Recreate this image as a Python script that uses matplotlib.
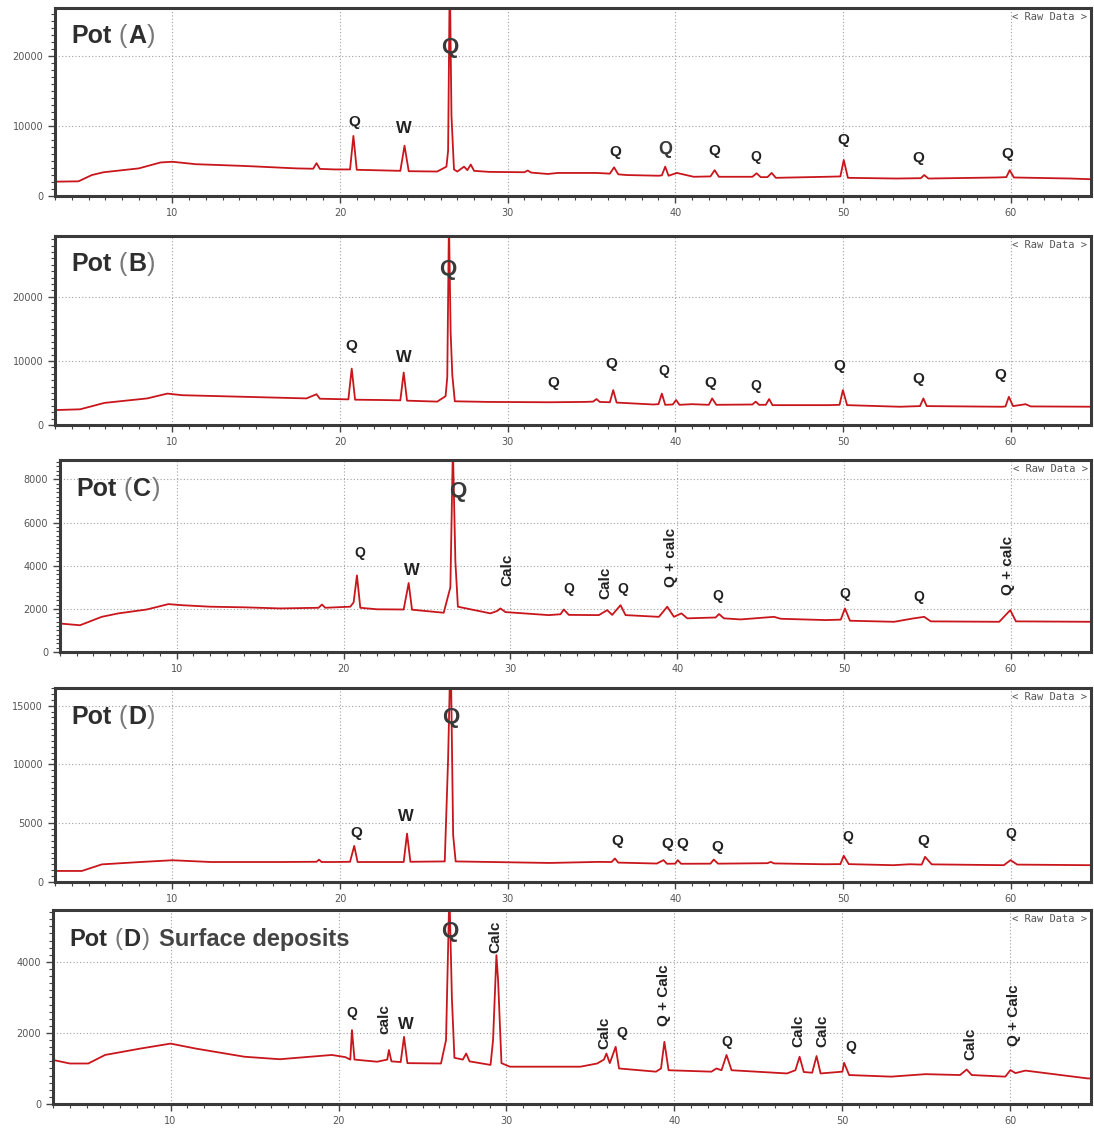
import matplotlib
matplotlib.use("Agg")
import matplotlib.pyplot as plt
from matplotlib.ticker import MultipleLocator
from matplotlib.transforms import offset_copy, blended_transform_factory

# ---- Pot (A) ----
a_tt = [3.0, 4.4, 5.2, 5.9, 8.0, 9.3, 10.0, 11.4, 14.3, 17.4, 18.4, 18.6, 18.8, 19.7, 20.6, 20.8, 21.0,
        21.9, 23.6, 23.85, 24.1, 25.8, 26.35, 26.45, 26.55, 26.65, 26.8, 27.0, 27.4, 27.6, 27.8, 28.0,
        28.9, 31.0, 31.2, 31.4, 32.4, 33.0, 35.3, 36.1, 36.35, 36.6, 37.1, 39.0, 39.2, 39.4, 39.6, 40.1,
        41.1, 42.1, 42.35, 42.6, 44.6, 44.85, 45.1, 45.5, 45.75, 46.0, 49.0, 49.85, 50.05, 50.3, 53.2,
        54.65, 54.85, 55.1, 59.2, 59.75, 59.95, 60.2, 63.6, 65.0]
a_cts = [2050, 2100, 3000, 3400, 3950, 4800, 4900, 4550, 4300, 3950, 3900, 4700, 3880, 3800, 3800, 8600, 3750,
         3700, 3600, 7200, 3550, 3500, 4200, 6500, 32000, 11500, 3800, 3500, 4200, 3700, 4500, 3600,
         3450, 3400, 3650, 3350, 3150, 3300, 3300, 3200, 4100, 3100, 3000, 2900, 2950, 4200, 2900, 3300,
         2750, 2800, 3700, 2750, 2750, 3250, 2700, 2700, 3300, 2600, 2750, 2800, 5150, 2600, 2500,
         2550, 3000, 2500, 2650, 2700, 3700, 2650, 2500, 2380]
a_labels = [(20.85, 10600, "Q", 11), (23.8, 9700, "W", 12), (26.55, 21200, "Q", 16),
            (36.4, 6300, "Q", 11), (39.4, 6600, "Q", 13), (42.3, 6400, "Q", 11),
            (44.8, 5600, "Q", 10), (50.0, 8000, "Q", 11), (54.5, 5400, "Q", 11), (59.8, 6000, "Q", 11)]

# ---- Pot (B) ----
b_tt = [3.0, 4.5, 5.95, 8.5, 9.7, 10.6, 14.3, 18.0, 18.6, 18.8, 19.7, 20.5, 20.7, 20.9, 22.5, 23.6, 23.8,
        24.0, 25.8, 26.3, 26.4, 26.5, 26.6, 26.7, 26.85, 28.9, 32.5, 34.55, 35.1, 35.3, 35.5, 36.1, 36.3,
        36.5, 38.7, 39.0, 39.2, 39.4, 39.85, 40.05, 40.25, 41.0, 42.0, 42.2, 42.45, 44.6, 44.8, 45.0,
        45.4, 45.6, 45.8, 49.2, 49.8, 50.0, 50.25, 53.4, 54.6, 54.8, 55.0, 59.5, 59.7, 59.9, 60.15, 60.9,
        61.2, 65.0]
b_cts = [2330, 2450, 3450, 4150, 4900, 4650, 4400, 4150, 4800, 4100, 4050, 4000, 8800, 3950, 3900, 3850, 8200,
         3800, 3650, 4500, 7500, 32000, 14500, 7800, 3700, 3600, 3550, 3600, 3650, 4050, 3600, 3550, 5450,
         3500, 3200, 3250, 4900, 3150, 3200, 3900, 3150, 3250, 3150, 4150, 3150, 3200, 3650, 3150,
         3150, 4050, 3100, 3100, 3150, 5450, 3100, 2850, 2950, 4150, 2950, 2850, 2900, 4400, 2950, 3250,
         2900, 2850]
b_labels = [(20.7, 12300, "Q", 11), (23.8, 10600, "W", 12), (26.4, 24200, "Q", 16),
            (32.7, 6600, "Q", 11), (36.2, 9500, "Q", 11), (39.3, 8400, "Q", 10), (42.1, 6600, "Q", 11),
            (44.8, 6100, "Q", 10), (49.8, 9200, "Q", 11), (54.5, 7200, "Q", 11), (59.4, 7800, "Q", 11)]

# ---- Pot (C) ----
c_tt = [3.0, 4.2, 5.5, 6.5, 8.2, 9.5, 10.3, 12.0, 14.1, 16.2, 18.5, 18.7, 18.9, 20.4, 20.6, 20.8, 21.0,
        22.0, 23.6, 23.9, 24.1, 26.0, 26.4, 26.55, 26.7, 26.85, 28.8, 29.2, 29.4, 29.7, 32.3, 33.0, 33.2,
        33.5, 35.3, 35.8, 36.1, 36.6, 36.9, 38.9, 39.4, 39.8, 40.25, 40.6, 42.3, 42.5, 42.8, 43.8, 45.8,
        46.2, 48.9, 49.8, 50.05, 50.35, 53.0, 54.1, 54.8, 55.2, 59.3, 59.96, 60.3, 64.8]
c_cts = [1320, 1240, 1630, 1790, 1970, 2220, 2170, 2100, 2070, 2020, 2050, 2200, 2050, 2100, 2300, 3550, 2050,
         1980, 1970, 3200, 1960, 1820, 3000, 9500, 4200, 2100, 1790, 1900, 2020, 1850, 1710, 1750, 1970,
         1720, 1710, 1940, 1720, 2170, 1710, 1630, 2100, 1630, 1790, 1560, 1600, 1760, 1560, 1510, 1630,
         1540, 1480, 1500, 2020, 1450, 1400, 1550, 1630, 1420, 1400, 1940, 1420, 1400]
c_labels = [(21.0, 4600, "Q", 10), (24.1, 3800, "W", 12), (26.85, 7450, "Q", 16),
            (33.5, 2900, "Q", 10), (36.75, 2900, "Q", 10), (42.45, 2600, "Q", 10),
            (50.05, 2700, "Q", 10), (54.5, 2550, "Q", 10)]
c_vlabels = [(29.8, 3800, "Calc"), (35.7, 3200, "Calc"), (39.6, 4400, "Q + calc"), (59.8, 4000, "Q + calc")]

# ---- Pot (D) ----
d_tt = [3.0, 4.6, 5.8, 8.1, 10.0, 12.3, 16.5, 18.6, 18.75, 18.9, 19.6, 20.6, 20.85, 21.05, 23.8, 24.0, 24.2,
        26.25, 26.45, 26.6, 26.75, 26.9, 32.5, 35.4, 36.2, 36.4, 36.6, 38.9, 39.3, 39.5, 40.0, 40.15,
        40.35, 42.1, 42.3, 42.55, 45.5, 45.7, 45.9, 48.9, 49.85, 50.05, 50.35, 53.0, 54.0, 54.7, 54.9,
        55.3, 59.6, 60.0, 60.4, 64.7]
d_cts = [940, 940, 1500, 1700, 1850, 1700, 1700, 1720, 1900, 1700, 1700, 1720, 3070, 1700, 1700, 4120, 1720,
         1750, 10500, 20000, 4000, 1750, 1620, 1710, 1700, 2000, 1650, 1570, 1860, 1550, 1560, 1860,
         1550, 1560, 1910, 1560, 1600, 1710, 1580, 1510, 1520, 2230, 1520, 1430, 1510, 1480, 2140,
         1500, 1430, 1860, 1480, 1430]
d_labels = [(20.95, 4200, "Q", 11), (23.9, 5600, "W", 12), (26.6, 13950, "Q", 16),
            (36.55, 3500, "Q", 11), (39.5, 3200, "Q", 11), (40.4, 3200, "Q", 11), (42.5, 3000, "Q", 11),
            (50.3, 3850, "Q", 10), (54.8, 3500, "Q", 11), (60.0, 4050, "Q", 10)]

# ---- Pot (D) surface deposits ----
e_tt = [3.0, 4.0, 5.1, 6.1, 8.2, 10.0, 11.5, 14.4, 16.5, 19.6, 20.4, 20.7, 20.8, 20.95, 22.3, 22.9, 23.0,
        23.15, 23.7, 23.9, 24.1, 26.1, 26.4, 26.6, 26.75, 26.9, 27.4, 27.6, 27.8, 29.05, 29.2, 29.4, 29.5,
        29.7, 30.2, 32.4, 34.4, 35.4, 35.8, 35.95, 36.15, 36.5, 36.7, 38.9, 39.2, 39.4, 39.65, 42.2,
        42.5, 42.8, 43.1, 43.4, 46.7, 47.2, 47.45, 47.7, 48.2, 48.46, 48.7, 50.0, 50.1, 50.4, 52.9,
        54.95, 57.0, 57.4, 57.7, 59.7, 60.0, 60.3, 60.9, 64.6, 65.0]
e_cts = [1240, 1140, 1140, 1380, 1560, 1700, 1560, 1330, 1260, 1380, 1320, 1250, 2080, 1250, 1190, 1250, 1520,
         1200, 1180, 1890, 1150, 1140, 1800, 6000, 2970, 1300, 1250, 1420, 1200, 1100, 1800, 4190, 3480,
         1150, 1050, 1050, 1050, 1140, 1250, 1420, 1150, 1610, 1000, 910, 1000, 1750, 950, 910,
         1000, 950, 1380, 950, 860, 950, 1330, 900, 880, 1350, 860, 910, 1160, 815, 770,
         840, 815, 970, 815, 770, 955, 870, 940, 720, 720]
e_labels = [(20.8, 2550, "Q", 10), (24.0, 2250, "W", 12), (26.6, 4850, "Q", 16),
            (36.85, 2000, "Q", 10), (43.1, 1750, "Q", 10), (50.5, 1600, "Q", 10)]
e_vlabels = [(22.7, 2400, "calc"), (29.35, 4700, "Calc"), (35.8, 2000, "Calc"), (39.4, 3050, "Q + Calc"),
             (47.4, 2050, "Calc"), (48.8, 2050, "Calc"), (57.6, 1700, "Calc"), (60.2, 2500, "Q + Calc")]

W, H = 1094, 1128
FONT = "Liberation Sans"
TXT = "#2e2e2e"

# panel: left px, top px, bottom px, ymax, major, minor, letter, data, labels
panels = [
    (55, 8, 196, 26900, 10000, 1000, "A", a_tt, a_cts, a_labels, []),
    (55, 236, 425, 29500, 10000, 1000, "B", b_tt, b_cts, b_labels, []),
    (60, 460, 652, 8900, 2000, 200, "C", c_tt, c_cts, c_labels, c_vlabels),
    (55, 688, 882, 16500, 5000, 500, "D", d_tt, d_cts, d_labels, []),
    (53, 910, 1104, 5460, 2000, 200, "D", e_tt, e_cts, e_labels, e_vlabels),
]

fig = plt.figure(figsize=(W / 100, H / 100), dpi=100)
renderer = fig.canvas.get_renderer()


def title(ax, letter, extra, size):
    # "Pot (X)" with thin grey brackets, pieces placed one after another
    pieces = [("Pot", "bold", TXT, 7), ("(", "normal", "#777777", 1), (letter, "bold", TXT, 1),
              (")", "normal", "#777777", 9)]
    if extra:
        pieces.append((extra, "bold", "#444444", 0))
    dx = 0
    for s, wgt, col, gap in pieces:
        tr = offset_copy(ax.transAxes, fig=fig, x=dx, y=0, units="dots")
        t = ax.text(0.016, 0.85, s, transform=tr, fontsize=size, fontweight=wgt, color=col,
                    family=FONT, va="center", ha="left")
        dx += t.get_window_extent(renderer).width + gap


for i, (left, top, bottom, ymax, major, minor, letter, tt, cts, labels, vlabels) in enumerate(panels):
    ax = fig.add_axes([left / W, 1 - bottom / H, (1091 - left) / W, (bottom - top) / H])
    ax.plot(tt, cts, color="#c8161c", lw=1.3)
    ax.set_xlim(3, 64.8)
    ax.set_ylim(0, ymax)
    ax.xaxis.set_major_locator(MultipleLocator(10))
    ax.xaxis.set_minor_locator(MultipleLocator(1))
    ax.yaxis.set_major_locator(MultipleLocator(major))
    ax.yaxis.set_minor_locator(MultipleLocator(minor))
    ax.grid(True, which="major", color="#a0a0a0", linestyle=(0, (1, 2)), lw=0.8)
    ax.tick_params(which="both", direction="out", color="#444444", labelsize=7, labelcolor="#555555")
    ax.tick_params(which="major", length=5, width=1)
    ax.tick_params(which="minor", length=3, width=0.8)
    for sp in ax.spines.values():
        sp.set_linewidth(2.2)
        sp.set_color("#3a3a3a")

    for x, y, s, fs in labels:
        col = "#3a3a3a" if fs >= 13 else "#222222"
        ax.text(x, y, s, ha="center", va="center", fontsize=fs, fontweight="bold", color=col, family=FONT)
    for x, y, s in vlabels:
        ax.text(x, y, s, ha="center", va="center", rotation=90, fontsize=11, fontweight="bold",
                color="#222222", family=FONT)

    trans = blended_transform_factory(ax.transData, ax.transAxes)
    ax.text(60.1, 1 - 9 / (bottom - top), "< Raw Data >", transform=trans, fontsize=7.5,
            family="DejaVu Sans Mono", color="#555555", va="center", ha="left")

    if i == 4:
        title(ax, letter, "Surface deposits", 17)
    else:
        title(ax, letter, None, 18)

fig.savefig("out.png", dpi=100)
